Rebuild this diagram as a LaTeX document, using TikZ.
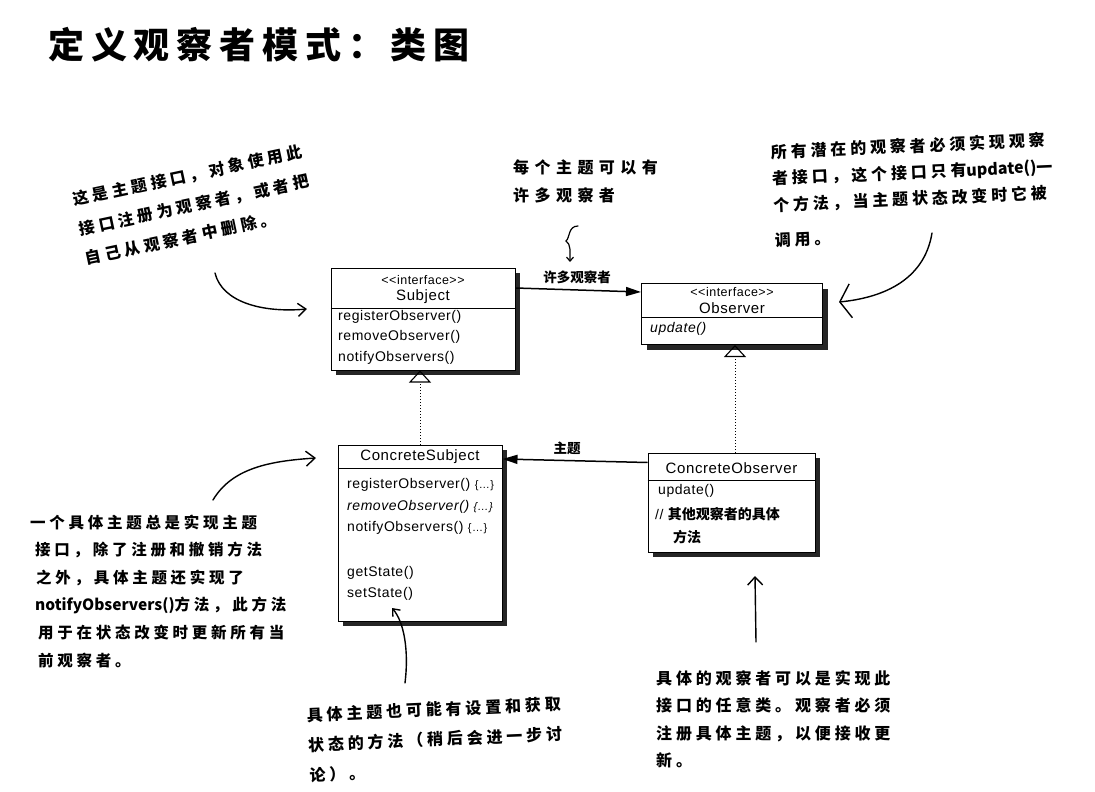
\documentclass[tikz,border=0pt]{standalone}
\usepackage{fontspec}
\usetikzlibrary{arrows.meta,shadows,calc}
\setmainfont{Liberation Sans}
\newfontfamily\uml[LetterSpace=4]{Liberation Sans}
\newfontfamily\cjk{Noto Sans CJK SC}
\newfontfamily\hand[LetterSpace=24]{Noto Sans CJK SC}
\newfontfamily\handwide[LetterSpace=34]{Noto Sans CJK SC}
\newfontfamily\handlat{Noto Sans CJK SC}
\newfontfamily\titlef[LetterSpace=19]{Noto Sans CJK SC}
\begin{document}
\begin{tikzpicture}[x=1pt,y=-1pt,
  cls/.style={draw=black, line width=1pt, fill=white, inner sep=0pt,
    drop shadow={shadow xshift=5pt, shadow yshift=-5pt, fill=black!85, opacity=1}},
  mt/.style={anchor=west, inner sep=0pt, font=\uml\fontsize{14}{16}\selectfont},
  mti/.style={mt, font=\uml\itshape\fontsize{14}{16}\selectfont},
  ttl/.style={inner sep=0pt, font=\uml\fontsize{15}{17}\selectfont},
  ster/.style={inner sep=0pt, font=\uml\fontsize{12.5}{14}\selectfont},
  divl/.style={line width=1pt},
  assoc/.style={line width=1.5pt, -{Triangle[length=15pt,width=9pt]}},
  realz/.style={dotted, line width=1pt, -{Triangle[open,length=12pt,width=22pt,line width=1.1pt]}},
  lbl/.style={inner sep=0pt, font=\cjk\bfseries\fontsize{13.5}{15}\selectfont},
  note/.style={inner sep=0pt, align=left},
  handarrow/.style={line width=1.4pt, line cap=round}
]
\fill[white] (0,0) rectangle (1095,792);
\useasboundingbox (0,0) rectangle (1095,792);

% title
\node[anchor=west, inner sep=0pt, font=\titlef\bfseries\fontsize{36}{40}\selectfont] (title) at (48,45) {定义观察者模式：类图};

% class boxes
\node[cls, minimum width=184pt, minimum height=102pt] (subj) at (423,319) {};
\node[cls, minimum width=181pt, minimum height=61pt] (obs) at (732,314) {};
\node[cls, minimum width=164pt, minimum height=176pt] (csub) at (420,533) {};
\node[cls, minimum width=167pt, minimum height=99pt] (cobs) at (731.5,502.5) {};

% Subject contents
\node[ster] (subjst) at (423,280) {<<interface>>};
\node[ttl] (subjt) at (423,297) {Subject};
\draw[divl] (subj.west |- 0,308) -- (subj.east |- 0,308);
\node[mt] (sm1) at (338,317) {registerObserver()};
\node[mt] (sm2) at (338,337) {removeObserver()};
\node[mt] (sm3) at (338,358) {notifyObservers()};

% Observer contents
\node[ster] (obsst) at (732,292) {<<interface>>};
\node[ttl] (obst) at (732,308) {Observer};
\draw[divl] (obs.west |- 0,317) -- (obs.east |- 0,317);
\node[mti] (om1) at (650,329) {update()};

% ConcreteSubject contents
\node[ttl] (csubt) at (420,457) {ConcreteSubject};
\draw[divl] (csub.west |- 0,468) -- (csub.east |- 0,468);
\node[mt] (cm1) at (347,485) {registerObserver() {\fontsize{11}{12}\selectfont\{…\}}};
\node[mti] (cm2) at (347,507) {removeObserver() {\fontsize{11}{12}\selectfont\{…\}}};
\node[mt] (cm3) at (347,528) {notifyObservers() {\fontsize{11}{12}\selectfont\{…\}}};
\node[mt] (cm4) at (347,573) {getState()};
\node[mt] (cm5) at (347,594) {setState()};

% ConcreteObserver contents
\node[ttl] (cobst) at (731.5,468) {ConcreteObserver};
\draw[divl] (cobs.west |- 0,480) -- (cobs.east |- 0,480);
\node[mt] (com1) at (658,491) {update()};
\node[mt] (com2) at (655,514) {// {\cjk\bfseries\fontsize{14}{16}\selectfont 其他观察者的具体}};
\node[mt] (com3) at (673,537) {{\cjk\bfseries\fontsize{14}{16}\selectfont 方法}};

% associations
\draw[assoc] ($(subj.east)+(0,-31)$) -- ($(obs.west)+(0,-22)$);
\node[lbl] (lmany) at (577,277) {许多观察者};
\draw[assoc] ($(cobs.west)+(0,-40)$) -- ($(csub.east)+(0,-74)$);
\node[lbl] (lsubj) at (567,448) {主题};

% realizations
\draw[realz] (csub.north) -- ($(subj.south)+(-3,0)$);
\draw[realz] ($(cobs.north)+(3.5,0)$) -- ($(obs.south)+(3,0)$);

% notes
\node[note, rotate=12, font=\hand\bfseries\fontsize{16}{30}\selectfont] (n1) at (194,205)
  {这是主题接口，对象使用此\\接口注册为观察者，或者把\\自己从观察者中删除。};
\node[note, anchor=west, font=\handwide\bfseries\fontsize{16}{28}\selectfont] (n2) at (513,181)
  {每个主题可以有\\许多观察者};
\node[note, rotate=2.5, font=\hand\bfseries\fontsize{16}{26.5}\selectfont] (n3) at (913,190)
  {所有潜在的观察者必须实现观察\\者接口，这个接口只有{\handlat\bfseries update()}一\\个方法，当主题状态改变时它被\\[9pt]调用。};
\node[note, anchor=west, font=\hand\bfseries\fontsize{15.5}{27.6}\selectfont] (n4) at (30,591)
  {一个具体主题总是实现主题\\\hspace*{5pt}接口，除了注册和撤销方法\\\hspace*{6pt}之外，具体主题还实现了\\\hspace*{5pt}{\handlat\bfseries notifyObservers()}方法，此方法\\\hspace*{8pt}用于在状态改变时更新所有当\\\hspace*{8pt}前观察者。};
\node[note, anchor=west, rotate=2.5, font=\hand\bfseries\fontsize{16}{30}\selectfont] (n5) at (308,745)
  {具体主题也可能有设置和获取\\状态的方法（稍后会进一步讨\\论）。};
\node[note, anchor=west, font=\hand\bfseries\fontsize{16}{27.5}\selectfont] (n6) at (656,719)
  {具体的观察者可以是实现此\\接口的任意类。观察者必须\\注册具体主题，以便接收更\\新。};

% hand-drawn arrows
\coordinate (a1s) at (215,273);
\coordinate (a1e) at (307,309);
\draw[handarrow, -{Straight Barb[length=8pt,width=13pt,line width=1.4pt]}]
  (a1s) .. controls (222,302) and (262,313) .. (a1e);

\coordinate (a2s) at (578,226);
\coordinate (a2m) at (566,241);
\coordinate (a2e) at (570,262);
\draw[handarrow, line width=1.2pt, -{Straight Barb[length=4pt,width=7pt,line width=1.2pt]}]
  (a2s) .. controls (568,226) and (570,238) .. (a2m) .. controls (571,244) and (570,252) .. (a2e);

\coordinate (a3s) at (932,233);
\coordinate (a3e) at (839,302);
\draw[handarrow, -{Straight Barb[length=11pt,width=34pt,line width=1.4pt]}]
  (a3s) .. controls (924,282) and (880,298) .. (a3e);

\coordinate (a4s) at (213,500);
\coordinate (a4e) at (316,458);
\draw[handarrow, -{Straight Barb[length=9pt,width=15pt,line width=1.4pt]}]
  (a4s) .. controls (232,468) and (270,461) .. (a4e);

\coordinate (a5s) at (405,683);
\coordinate (a5e) at (392,608);
\draw[handarrow, -{Straight Barb[length=6pt,width=10pt,line width=1.4pt]}]
  (a5s) .. controls (409,650) and (404,622) .. (a5e);

\coordinate (a6s) at (756,642);
\coordinate (a6e) at (755,576);
\draw[handarrow, -{Straight Barb[length=8pt,width=15pt,line width=1.4pt]}]
  (a6s) -- (a6e);
\end{tikzpicture}
\end{document}
